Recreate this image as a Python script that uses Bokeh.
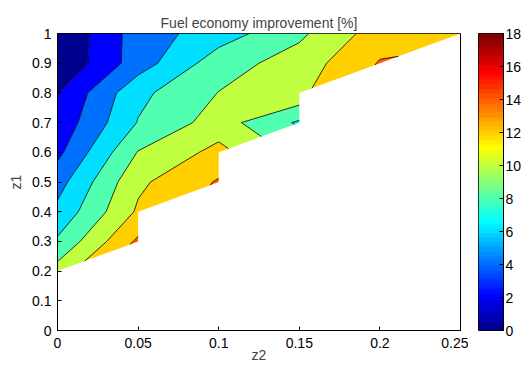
import numpy as np
from bokeh.plotting import figure
from bokeh.models import FixedTicker, Range1d, LinearColorMapper
from bokeh.layouts import row
from bokeh.embed import file_html
from bokeh.resources import INLINE

# ---------------- data ----------------
z2_values = [0.0, 0.05, 0.10, 0.15, 0.20, 0.25]
z1_values = [0.0, 0.1, 0.2, 0.3, 0.4, 0.5, 0.6, 0.7, 0.8, 0.9, 1.0]

# fuel economy improvement [%] along z1 (bottom -> top) for each z2 column; None = infeasible
fe_z2_000 = [None, None, 10.8, 8.3, 6.5, 5.2, 3.5, 2.6, 1.9, 0.2, 0.1]
fe_z2_005 = [None, None, None, 14.36, 12.3, 11.6, 10.1, 8.1, 7.5, 5.0, 4.96]
fe_z2_010 = [None, None, None, None, None, 14.2, 12.6, 10.9, 10.05, 9.1, 7.02]
fe_z2_015 = [None, None, None, None, None, None, None, 7.7, 11.6, 10.9, 9.6]
fe_z2_020 = [None, None, None, None, None, None, None, None, None, 14.15, 13.0]
fe_z2_025 = [None, None, None, None, None, None, None, None, None, None, 13.5]

contour_levels = [0, 2, 4, 6, 8, 10, 12, 14, 16, 18]

x_ticks = [0, 0.05, 0.1, 0.15, 0.2, 0.25]
x_tick_labels = ["0", "0.05", "0.1", "0.15", "0.2", "0.25"]
y_ticks = [0, 0.1, 0.2, 0.3, 0.4, 0.5, 0.6, 0.7, 0.8, 0.9, 1]
y_tick_labels = ["0", "0.1", "0.2", "0.3", "0.4", "0.5", "0.6", "0.7", "0.8", "0.9", "1"]
cbar_ticks = [0, 2, 4, 6, 8, 10, 12, 14, 16, 18]
cbar_low, cbar_high = 0, 18

title_text = "Fuel economy improvement [%]"
x_label = "z2"
y_label = "z1"

# ---------------- colormap (MATLAB jet, 64) ----------------
def _clip(v):
    return min(max(v, 0.0), 1.0)

def jet64():
    cols = []
    for i in range(1, 65):
        r = _clip((i - 24) / 16) if i <= 56 else _clip((72 - i) / 16)
        g = _clip((i - 8) / 16) if i <= 40 else _clip((56 - i) / 16)
        b = _clip((i + 8) / 16) if i <= 24 else _clip((40 - i) / 16)
        cols.append("#%02x%02x%02x" % (round(r * 255), round(g * 255), round(b * 255)))
    return cols

JET = jet64()
band_colors = [JET[min(int(L / (cbar_high - cbar_low) * 64), 63)] for L in contour_levels[:-1]]

FONT = "Liberation Sans"

Z = np.array([fe_z2_000, fe_z2_005, fe_z2_010, fe_z2_015, fe_z2_020, fe_z2_025], dtype=float).T

# ---------------- main plot ----------------
p = figure(width=468, height=365, x_range=Range1d(0, 0.25), y_range=Range1d(0, 1),
           output_backend="svg", toolbar_location=None,
           min_border_left=57, min_border_right=8, min_border_top=33, min_border_bottom=35,
           background_fill_color="white", border_fill_color="white",
           outline_line_color="black", outline_line_width=1)
p.title.text = title_text
p.title.align = "center"
p.title.text_font = FONT
p.title.text_font_size = "14px"
p.title.text_font_style = "normal"
p.title.standoff = 5
p.grid.visible = False

cr = p.contour(z2_values, z1_values, Z, contour_levels, fill_color=band_colors,
               line_color="black", line_width=0.8)
cr.fill_renderer.glyph.line_color = "black"
cr.fill_renderer.glyph.line_width = 0.8

mask = np.where(np.isnan(Z), np.nan, 1.0)
br = p.contour(z2_values, z1_values, mask, [0, 2], fill_color="black")
br.fill_renderer.glyph.fill_alpha = 0
br.fill_renderer.glyph.line_color = "black"
br.fill_renderer.glyph.line_width = 1.6

def style_axis(ax, ticks, overrides=None):
    ax.ticker = FixedTicker(ticks=ticks)
    if overrides is not None:
        ax.major_label_overrides = overrides
    ax.major_tick_in = 4
    ax.major_tick_out = 0
    ax.minor_tick_line_color = None
    ax.axis_line_color = "black"
    ax.major_tick_line_color = "black"
    ax.major_label_text_font = FONT
    ax.major_label_text_color = "black"
    ax.major_label_text_font_size = "14px"
    ax.axis_label_text_font = FONT
    ax.axis_label_text_font_style = "normal"
    ax.axis_label_text_font_size = "14px"

xa = p.xaxis[0]
style_axis(xa, x_ticks, dict(zip(x_ticks, x_tick_labels)))
xa.major_label_standoff = 7
xa.axis_label = x_label
xa.axis_label_standoff = -4

ya = p.yaxis[0]
style_axis(ya, y_ticks, dict(zip(y_ticks, y_tick_labels)))
ya.major_label_standoff = 6
ya.axis_label = y_label
ya.axis_label_standoff = 5

# ---------------- colour bar ----------------
cbf = figure(width=59, height=365, x_range=Range1d(0, 1), y_range=Range1d(cbar_low, cbar_high),
             output_backend="svg", toolbar_location=None,
             x_axis_location=None, y_axis_location="right",
             min_border_left=10, min_border_right=24, min_border_top=33, min_border_bottom=35,
             background_fill_color="white", border_fill_color="white",
             outline_line_color="black", outline_line_width=1)
cbf.grid.visible = False
scale_samples = np.array([[(k + 0.5) * (cbar_high - cbar_low) / 64 + cbar_low] for k in range(64)])
cbf.image(image=[scale_samples], x=0, y=cbar_low, dw=1, dh=cbar_high - cbar_low,
          color_mapper=LinearColorMapper(palette=JET, low=cbar_low, high=cbar_high))
cya = cbf.yaxis[0]
style_axis(cya, cbar_ticks)
cya.major_label_standoff = 2

layout = row(p, cbf)
open("out.html", "w").write(file_html(layout, INLINE))
